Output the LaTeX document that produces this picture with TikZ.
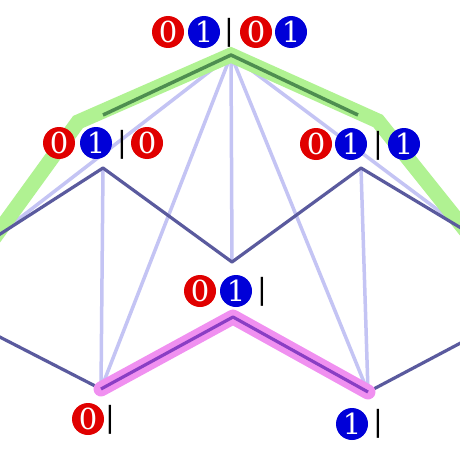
\documentclass[tikz,border=0pt]{standalone}
\usepackage{fontspec}
\newfontfamily\digitfont{DejaVu Serif}
\definecolor{lightln}{HTML}{C4C4F4}
\definecolor{darkln}{HTML}{5A5A9E}
\definecolor{greenband}{HTML}{B0F292}
\definecolor{greenline}{HTML}{4E8E50}
\definecolor{pinkband}{HTML}{F090F0}
\definecolor{purpleln}{HTML}{8A3EC4}
\definecolor{redc}{HTML}{E00000}
\definecolor{bluec}{HTML}{0000D8}
\begin{document}
\begin{tikzpicture}[x=1pt,y=-1pt,
  light/.style={draw=lightln, line width=3.5pt},
  dark/.style={draw=darkln, line width=3.2pt, line join=round},
  gband/.style={draw=greenband, line width=15pt, line join=miter},
  pband/.style={draw=pinkband, line width=15pt, line join=round, line cap=round},
  zero/.style={circle, fill=redc, text=white, minimum size=32pt, inner sep=0pt, font=\digitfont\fontsize{29}{29}\selectfont},
  one/.style={zero, fill=bluec},
  bar/.style={inner sep=0pt, font=\digitfont\fontsize{29}{29}\selectfont},
]
\useasboundingbox (0,0) rectangle (460,460);
\clip (0,0) rectangle (460,460);
\fill[white] (0,0) rectangle (460,460);
% vertices
\coordinate (T) at (231,55);
\coordinate (L1) at (103,168);
\coordinate (R1) at (361,168);
\coordinate (M) at (232,262);
\coordinate (P) at (233,317);
\coordinate (B0) at (101,389);
\coordinate (B1) at (368,392);
\coordinate (XL) at (-6,238);
\coordinate (XR) at (466,231);
\coordinate (XL2) at (-10,332);
\coordinate (XR2) at (470,338);
\coordinate (GL) at (78,122);
\coordinate (GR) at (378,121);
\coordinate (DL) at (103,115);
\coordinate (DR) at (358,115);
% light connectors
\draw[light] (T) -- (XL);
\draw[light] (T) -- (B0);
\draw[light] (T) -- (M);
\draw[light] (T) -- (B1);
\draw[light] (T) -- (XR);
\draw[light] (L1) -- (B0);
\draw[light] (R1) -- (B1);
% green band
\draw[gband] (XL) -- (GL) -- (T) -- (GR) -- (XR);
% dark connectors
\draw[dark] (XL) -- (L1) -- (M) -- (R1) -- (XR);
\draw[dark] (XL2) -- (B0);
\draw[dark] (B1) -- (XR2);
% pink band
\draw[pband] (B0) -- (P) -- (B1);
\draw[draw=purpleln, line width=3.2pt, line join=round] (B0) -- (P) -- (B1);
% dark green
\draw[draw=greenline, line width=3.5pt, line join=round] (DL) -- (T) -- (DR);
% labels
\node[zero] (a1) at (168,32) {0};
\node[one]  (a2) at (204,32) {1};
\node[bar]  (a3) at (229,33) {|};
\node[zero] (a4) at (256,32) {0};
\node[one]  (a5) at (291,32) {1};

\node[zero] (b1) at (59,143) {0};
\node[one]  (b2) at (96,143) {1};
\node[bar]  (b3) at (122,145) {|};
\node[zero] (b4) at (147,143) {0};

\node[zero] (c1) at (316,144) {0};
\node[one]  (c2) at (351,144) {1};
\node[bar]  (c3) at (378,146) {|};
\node[one]  (c4) at (404,144) {1};

\node[zero] (d1) at (200,291) {0};
\node[one]  (d2) at (236,291) {1};
\node[bar]  (d3) at (262,292) {|};

\node[zero] (e1) at (88,419) {0};
\node[bar]  (e2) at (110,420) {|};

\node[one]  (f1) at (352,424) {1};
\node[bar]  (f2) at (378,424) {|};
\end{tikzpicture}
\end{document}
